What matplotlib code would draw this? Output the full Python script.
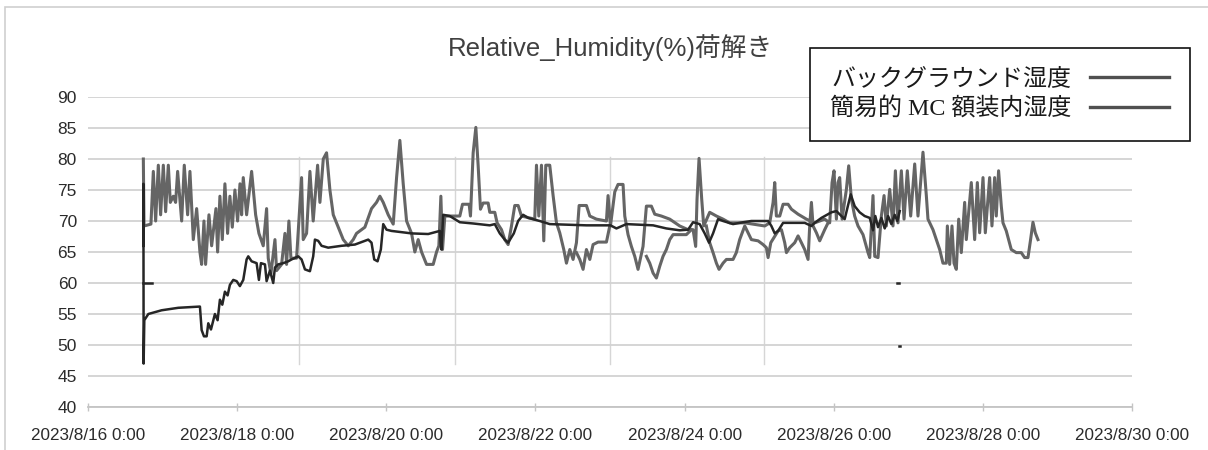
import numpy as np
import pandas as pd
import matplotlib
matplotlib.use("Agg")
import matplotlib.pyplot as plt
from matplotlib.ticker import FuncFormatter
from matplotlib.patches import Rectangle
from matplotlib.font_manager import FontProperties
import matplotlib.dates as mdates

START = pd.Timestamp("2023-08-16 00:00")
END = pd.Timestamp("2023-08-30 00:00")

# Background humidity: elapsed days since START and %RH
bg_days = [0.742, 0.751, 0.844, 0.876, 0.907, 0.943, 0.974, 1.010, 1.041, 1.077,
           1.104, 1.144, 1.175, 1.202, 1.256, 1.291, 1.336, 1.367, 1.412, 1.457,
           1.501, 1.524, 1.555, 1.577, 1.622, 1.658, 1.716, 1.738, 1.769, 1.801,
           1.836, 1.872, 1.903, 1.935, 1.970, 2.006, 2.038, 2.060, 2.082, 2.127,
           2.194, 2.248, 2.292, 2.350, 2.395, 2.417, 2.453, 2.507, 2.529, 2.596,
           2.641, 2.663, 2.694, 2.721, 2.797, 2.864, 2.886, 2.931, 2.976, 3.020,
           3.079, 3.110, 3.155, 3.199, 3.244, 3.289, 3.356, 3.423, 3.490, 3.557,
           3.601, 3.713, 3.802, 3.869, 3.914, 3.959, 4.026, 4.093, 4.138, 4.182,
           4.227, 4.272, 4.339, 4.383, 4.428, 4.473, 4.540, 4.629, 4.674, 4.705,
           4.732, 4.754, 4.785, 4.986, 5.022, 5.111, 5.129, 5.165, 5.201, 5.232,
           5.263, 5.299, 5.366, 5.388, 5.455, 5.486, 5.545, 5.589, 5.634, 5.679,
           5.723, 5.768, 5.813, 5.991, 6.014, 6.045, 6.081, 6.112, 6.139, 6.192,
           6.237, 6.282, 6.326, 6.380, 6.416, 6.461, 6.505, 6.550, 6.586, 6.684,
           6.729, 6.818, 6.952, 6.974, 7.006, 7.064, 7.108, 7.175, 7.198, 7.242,
           7.287, 7.332, 7.376, 7.443, 7.488, 7.555, 7.600, 7.689, 7.801, 7.935,
           8.047, 8.114, 8.149, 8.167, 8.194, 8.230, 8.257, 8.337, 8.427, 8.516,
           8.605, 8.739, 8.807, 9.075, 9.142, 9.187, 9.209, 9.231, 9.276, 9.321,
           9.388, 9.433, 9.522, 9.634, 9.745, 9.879, 9.946, 9.978, 10.004, 10.036,
           10.058, 10.080, 10.112, 10.170, 10.201, 10.237, 10.281, 10.326, 10.393, 10.460,
           10.483, 10.527, 10.550, 10.594, 10.639, 10.675, 10.706, 10.751, 10.795, 10.827,
           10.862, 10.907, 10.943, 10.987, 11.032, 11.086, 11.130, 11.197, 11.242, 11.264,
           11.331, 11.376, 11.421, 11.465, 11.510, 11.524, 11.555, 11.586, 11.613, 11.644,
           11.676, 11.711, 11.756, 11.778, 11.845, 11.890, 11.926, 11.957, 12.002, 12.033,
           12.091, 12.122, 12.158, 12.180, 12.211, 12.247, 12.270, 12.314, 12.381, 12.448,
           12.515, 12.560, 12.605, 12.640, 12.672, 12.703, 12.739]
bg_rh = [80, 69.2, 69.5, 78, 70, 79, 71, 79, 71.5, 79,
         73, 74, 73, 78, 70, 79, 71, 78, 67, 72,
         65, 63, 70, 63, 71, 66, 72, 65, 74, 67,
         76, 68, 74, 69, 75, 70, 76, 71, 77, 71,
         78, 71, 68, 66, 72, 64, 61.5, 67, 62, 63,
         68, 63, 70, 64, 64, 77, 67, 68, 78, 70,
         79, 73, 80, 81, 75, 71, 69, 67, 66, 67,
         68, 69, 72, 73, 74, 73, 71, 69.5, 77, 83,
         76, 70, 68, 65, 67, 65, 63, 63, 65, 66,
         74, 65.4, 70.8, 70.8, 72.7, 72.7, 70.8, 81, 85.1, 78.9,
         71.9, 72.9, 72.9, 71.4, 71.4, 69.7, 68.6, 67, 66.2, 69.2,
         72.5, 72.5, 70.8, 70.3, 79, 70.8, 79, 66.8, 79, 79,
         74.1, 69.7, 68.1, 65.4, 63.2, 65.4, 63.8, 66.5, 72.5, 72.5,
         70.8, 70.3, 70, 74.1, 69.2, 74.7, 75.9, 75.9, 70.8, 67.8,
         65.9, 64.3, 62.2, 65.9, 72.4, 72.4, 71.1, 70.8, 70.3, 69.2,
         68.6, 68.6, 65.9, 73.5, 80.1, 73.5, 69.2, 71.4, 70.8, 70.3,
         69.7, 69.7, 69.7, 69.2, 69.7, 73, 76.2, 70.8, 70.8, 72.7,
         72.7, 71.9, 71.1, 70.3, 69.7, 70.3, 69.7, 76.2, 78.1, 70.3,
         76.2, 77, 70.3, 75.1, 78.9, 73.5, 70.8, 69.2, 67.8, 64.9,
         64.1, 74.1, 64.3, 64.1, 70.8, 74.1, 69.2, 75.1, 69.2, 78.1,
         69.7, 78.1, 70.3, 78.1, 70.8, 79.2, 70.8, 81.1, 74.1, 70.3,
         68.6, 67, 65.4, 63.2, 63.2, 69.2, 63, 69.2, 63.2, 62.2,
         70.3, 64.9, 73, 67, 76.2, 67, 76.2, 68.1, 77, 68.1,
         77, 69.2, 77, 70.8, 78.1, 72.4, 69.7, 68.4, 65.4, 64.9,
         64.9, 64.1, 64.1, 67, 69.8, 68.1, 67]

# Humidity inside the simple micro-climate frame
mc_days = [0.742, 0.743, 0.746, 0.755, 0.809, 0.987, 1.211, 1.501, 1.524, 1.555,
           1.591, 1.613, 1.649, 1.702, 1.738, 1.769, 1.801, 1.836, 1.872, 1.903,
           1.948, 1.993, 2.037, 2.082, 2.127, 2.149, 2.194, 2.261, 2.292, 2.319,
           2.373, 2.395, 2.440, 2.484, 2.507, 2.551, 2.618, 2.685, 2.730, 2.819,
           2.864, 2.909, 2.976, 3.020, 3.043, 3.087, 3.132, 3.221, 3.400, 3.579,
           3.758, 3.802, 3.838, 3.883, 3.927, 3.959, 4.003, 4.070, 4.339, 4.562,
           4.718, 4.732, 4.740, 4.763, 4.852, 4.986, 5.165, 5.388, 5.455, 5.522,
           5.589, 5.634, 5.710, 5.768, 5.835, 5.902, 6.058, 6.192, 6.684, 7.006,
           7.086, 7.220, 7.578, 7.756, 7.935, 8.047, 8.114, 8.203, 8.270, 8.328,
           8.382, 8.449, 8.516, 8.650, 8.784, 8.896, 9.120, 9.164, 9.209, 9.254,
           9.321, 9.611, 9.701, 9.745, 9.835, 9.969, 10.036, 10.103, 10.147, 10.228,
           10.281, 10.348, 10.415, 10.483, 10.527, 10.558, 10.594, 10.639, 10.684, 10.729,
           10.773, 10.818, 10.853, 10.885]
mc_rh = [66, 76, 47, 54, 55, 55.6, 56, 56.2, 52.4, 51.4,
         51.4, 53.5, 52.5, 55, 54, 57.3, 56.5, 58.6, 58, 59.7,
         60.5, 60.3, 59.5, 60.5, 63.8, 64.3, 63.5, 63.2, 60.5, 63.2,
         63, 60.3, 62, 60, 62.5, 63, 63.2, 63.5, 63.8, 64.3,
         63.8, 62.2, 61.9, 64.3, 67, 66.8, 66, 65.7, 66, 66.2,
         67, 66.5, 63.8, 63.5, 65.4, 69.5, 68.6, 68.4, 68, 67.9,
         68.4, 66, 65.4, 71, 70.8, 69.8, 69.6, 69.3, 69.5, 68,
         67, 66.5, 68, 70, 71, 70.5, 70, 69.5, 69.3, 69.3,
         68.8, 69.5, 69.3, 68.8, 68.5, 68.6, 69.8, 69.5, 68, 66.5,
         68, 70.3, 70, 69.5, 69.8, 70, 70, 69.2, 68, 68.4,
         69.7, 69.7, 69.2, 69.7, 70.5, 71.4, 71.6, 70.8, 70.3, 74.3,
         72.4, 71.4, 70.8, 70.5, 68.5, 70.8, 69, 70.5, 68.8, 70.8,
         69.5, 71, 70, 71.6]

# Second background probe (gaps where no reading was logged)
probe_days = [6.550, 6.595, 6.639, 6.684, 6.729, 6.773, 6.840, 6.952, 6.997, 7.100,
              7.488, 7.533, 7.578, 7.622, 7.667, 7.711, 7.756, 7.801, 7.846, 8.024,
              8.091, 8.200, 8.292, 8.337, 8.382, 8.427, 8.462, 8.516, 8.561, 8.650,
              8.694, 8.739, 8.807, 8.896, 8.986, 9.053, 9.097, 9.120, 9.156, 9.254,
              9.299, 9.343, 9.366, 9.410, 9.477, 9.522, 9.567, 9.611, 9.656, 9.678,
              9.701, 9.723, 9.768, 9.812, 9.879, 9.924]
probe_rh = [64.9, 63.8, 62.2, 65.4, 63.8, 66.2, 66.6, 66.6, 69.2, np.nan,
            64.3, 63.2, 61.6, 60.8, 62.7, 64.3, 65.4, 67, 67.8, 67.8,
            68.6, np.nan, 69.2, 66.5, 64.9, 63.2, 62.2, 63.2, 63.8, 63.8,
            64.9, 67, 69.2, 67, 66.8, 66.2, 65.7, 64.1, 66.5, 68.4,
            68.6, 66.5, 64.9, 65.7, 66.5, 67.6, 66.5, 65.4, 63.8, 69.2,
            73, 69.2, 68.1, 66.8, 68.6, 69.7]

# Isolated stray readings
stray_days = [0.742, 0.860, 0.861, 10.850, 10.875, 10.876, 10.880, 10.890]
stray_rh = [60, 60, np.nan, 60, 60, np.nan, 49.8, 49.8]

# Thin vertical event markers (elapsed days) and their RH span
event_days = [2.828, 4.920, 6.997, 9.067]
event_span = (47.0, 80.3)

title = "Relative_Humidity(%)荷解き"
legend_labels = ["バックグラウンド湿度", "簡易的 MC 額装内湿度"]
y_ticks = [40, 45, 50, 55, 60, 65, 70, 75, 80, 85, 90]


def to_time(days):
    return START + pd.to_timedelta(np.asarray(days, dtype=float), unit="D")


W, H = 1208, 450
fig = plt.figure(figsize=(W / 100, H / 100), dpi=100)
fig.patch.set_facecolor("white")
ax = fig.add_axes([88 / W, 1 - 407 / H, (1132 - 88) / W, (407 - 97) / H])

tick_font = ["Liberation Sans"]

for d in event_days:
    t = to_time([d])[0]
    ax.plot([t, t], list(event_span), color="#d6d6d6", lw=1.0, zorder=1)

bg_color = "#656565"
mc_color = "#262626"
l_bg, = ax.plot(to_time(bg_days), bg_rh, color=bg_color, lw=2.2, zorder=3)
ax.plot(to_time(probe_days), probe_rh, color=bg_color, lw=2.2, zorder=3)
l_mc, = ax.plot(to_time(mc_days), mc_rh, color=mc_color, lw=1.8, zorder=4)
ax.plot(to_time(stray_days), stray_rh, color=mc_color, lw=1.8, zorder=4)

ax.set_xlim(START, END)
ax.set_ylim(40, 90)
ax.set_yticks(y_ticks)
ax.set_xticks(pd.date_range(START, END, freq="2D"))


def fmt_date(x, pos=None):
    d = mdates.num2date(x)
    return f"{d.year}/{d.month}/{d.day} {d.hour}:{d.minute:02d}"


ax.xaxis.set_major_formatter(FuncFormatter(fmt_date))
ax.grid(axis="y", color="#d2d2d2", lw=1.3, zorder=0)
ax.grid(axis="x", visible=False)
for s in ("top", "right", "left"):
    ax.spines[s].set_visible(False)
ax.spines["bottom"].set_color("#c4c4c4")
ax.spines["bottom"].set_linewidth(1.3)
ax.tick_params(axis="y", length=0, pad=8, labelsize=12.5, labelcolor="#2b2b2b")
ax.tick_params(axis="x", direction="inout", length=6, width=1.0, color="#c4c4c4",
               pad=12, labelsize=12.3, labelcolor="#2b2b2b")
for lab in ax.get_xticklabels() + ax.get_yticklabels():
    lab.set_fontfamily(tick_font)

fig.text(610 / W, 1 - 48 / H, title, ha="center", va="center", fontsize=18.5,
         color="#404040", family=["Liberation Sans", "Noto Sans CJK JP"])

leg = fig.legend([l_bg, l_mc], legend_labels, loc="upper left",
                 bbox_to_anchor=(810 / W, 1 - 48 / H), bbox_transform=fig.transFigure,
                 markerfirst=False, frameon=True, fancybox=False, framealpha=1,
                 edgecolor="#111111", borderpad=0.85, labelspacing=0.3,
                 handlelength=3.3, handletextpad=0.75, borderaxespad=0,
                 prop=FontProperties(family=["Liberation Serif", "Noto Sans CJK JP"], size=17.3))
leg.get_frame().set_linewidth(1.2)
for t in leg.get_texts():
    t.set_color("#1a1a1a")
for h in leg.legend_handles:
    h.set_linewidth(2.4)
    h.set_color("#505050")

fig.patches.append(Rectangle((5 / W, -0.05), 1.1, (H - 7) / H + 0.05,
                             transform=fig.transFigure, fill=False,
                             edgecolor="#cfcfcf", lw=1.2))

fig.savefig("out.png", dpi=100, facecolor="white")
